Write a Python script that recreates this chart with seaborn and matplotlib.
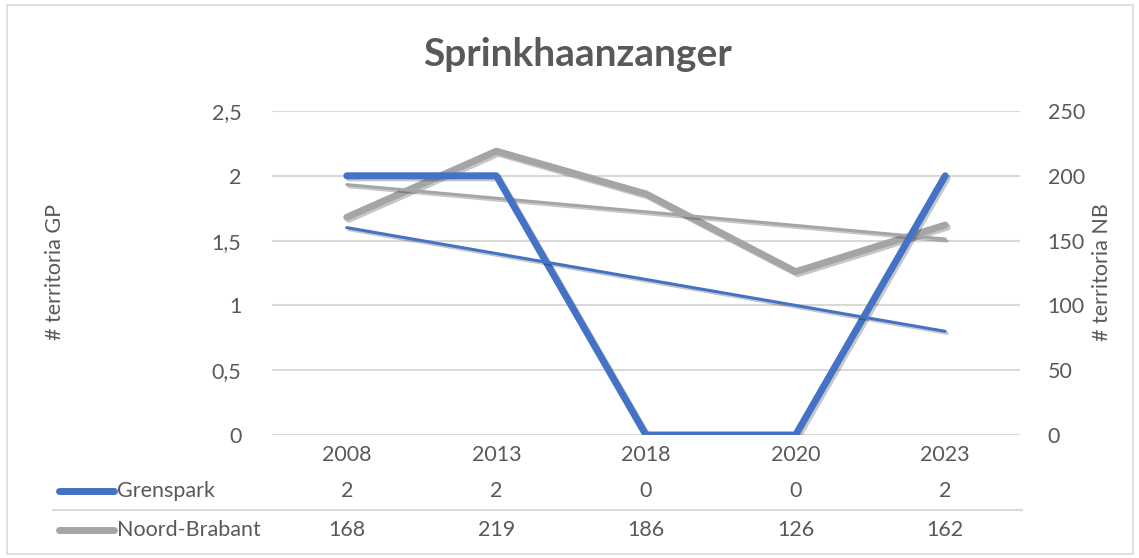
import numpy as np
import pandas as pd
import matplotlib
matplotlib.use("Agg")
import matplotlib.pyplot as plt
import matplotlib.patheffects as pe
from matplotlib.patches import Rectangle
from matplotlib.lines import Line2D
import seaborn as sns

# Data
years = ["2008", "2013", "2018", "2020", "2023"]
grenspark = [2, 2, 0, 0, 2]
noord_brabant = [168, 219, 186, 126, 162]
left_ticks = [0, 0.5, 1, 1.5, 2, 2.5]
right_ticks = [0, 50, 100, 150, 200, 250]

sns.set_theme(style="white")
plt.rcParams["font.family"] = ["Lato", "DejaVu Sans"]

BLUE = "#4472C4"
GRAY = "#A5A5A5"
TEXT = "#595959"
GRID = "#D9D9D9"
FS = 15.5

W, H = 1139, 558
fig = plt.figure(figsize=(W / 100, H / 100), dpi=100)
fig.patch.set_facecolor("white")

# chart border
fig.add_artist(Rectangle((7 / W, 4 / H), (1133 - 7) / W, (553 - 4) / H,
                         transform=fig.transFigure, fill=False,
                         edgecolor=GRID, linewidth=1.2))

x0, x1, ytop, ybot = 272, 1020, 111, 435
ax = fig.add_axes([x0 / W, 1 - ybot / H, (x1 - x0) / W, (ybot - ytop) / H])
ax2 = ax.twinx()

df = pd.DataFrame({"idx": np.arange(len(years)), "year": years,
                   "gp": grenspark, "nb": noord_brabant})

shadow = [pe.SimpleLineShadow(offset=(1.5, -1.5), shadow_color="black", alpha=0.22),
          pe.Normal()]

# Noord-Brabant on the right axis
sns.lineplot(data=df, x="idx", y="nb", ax=ax2, color=GRAY, linewidth=5,
             solid_capstyle="round", solid_joinstyle="round", path_effects=shadow)
nb_fit = np.polyfit(df["idx"], df["nb"], 1)
ax2.plot(df["idx"], np.polyval(nb_fit, df["idx"]), color=GRAY, linewidth=2.2,
         solid_capstyle="round", path_effects=shadow)

# Grenspark on the left axis
sns.lineplot(data=df, x="idx", y="gp", ax=ax, color=BLUE, linewidth=5,
             solid_capstyle="round", solid_joinstyle="round", path_effects=shadow)
gp_fit = np.polyfit(df["idx"], df["gp"], 1)
ax.plot(df["idx"], np.polyval(gp_fit, df["idx"]), color=BLUE, linewidth=2.2,
        solid_capstyle="round", path_effects=shadow)

# keep the left-axis series on top
ax.set_zorder(ax2.get_zorder() + 1)
ax.patch.set_visible(False)

ax.set_xlim(-0.5, len(years) - 0.5)
ax.set_ylim(0, 2.5)
ax2.set_ylim(0, 250)

ax.set_yticks(left_ticks)
ax.set_yticklabels([f"{t:g}".replace(".", ",") for t in left_ticks])
ax2.set_yticks(right_ticks)
ax2.set_yticklabels([str(t) for t in right_ticks])
ax.set_xticks(df["idx"])
ax.set_xticklabels(years)

for a in (ax, ax2):
    for s in a.spines.values():
        s.set_visible(False)
    a.set_xlabel("")
    a.set_ylabel("")
ax.tick_params(axis="both", length=0, labelsize=FS, labelcolor=TEXT)
ax.tick_params(axis="y", pad=22)
ax.tick_params(axis="x", pad=7)
ax2.tick_params(axis="y", length=0, labelsize=FS, labelcolor=TEXT, pad=20)

# horizontal gridlines behind both series
ax.yaxis.grid(False)
ax2.grid(False)
for t in right_ticks:
    ax2.axhline(t, color=GRID, linewidth=1.5, zorder=0)

# titles and axis labels
fig.text(578 / W, 1 - 55 / H, "Sprinkhaanzanger", ha="center", va="center",
         fontsize=28, fontweight="bold", color=TEXT)
fig.text(55 / W, 1 - 272 / H, "# territoria GP", rotation=90, ha="center",
         va="center", fontsize=FS, color=TEXT)
fig.text(1102 / W, 1 - 272 / H, "# territoria NB", rotation=90, ha="center",
         va="center", fontsize=FS, color=TEXT)

# data table below the chart
trans = ax.get_xaxis_transform()
rows = [("Grenspark", grenspark, BLUE, 491), ("Noord-Brabant", noord_brabant, GRAY, 530)]
for name, vals, col, ypx in rows:
    yf = 1 - ypx / H
    fig.add_artist(Line2D([59 / W, 114 / W], [yf, yf], transform=fig.transFigure,
                          color=col, linewidth=5, solid_capstyle="round"))
    fig.text(117 / W, yf, name, ha="left", va="center", fontsize=FS, color=TEXT)
    y_ax = (1 - ypx / H - (1 - ybot / H)) / ((ybot - ytop) / H)
    for i, v in enumerate(vals):
        ax.text(i, y_ax, f"{v:g}", transform=trans, ha="center", va="center",
                fontsize=FS, color=TEXT)
sep = 1 - 510 / H
fig.add_artist(Line2D([53 / W, 1022 / W], [sep, sep], transform=fig.transFigure,
                      color=GRID, linewidth=1.5))

fig.savefig("out.png", dpi=100, facecolor="white")
